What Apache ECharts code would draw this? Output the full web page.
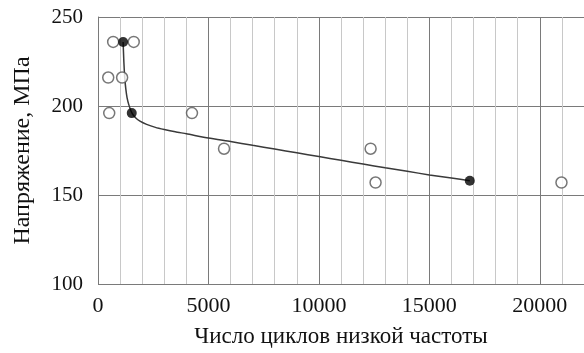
<!DOCTYPE html>
<html>
<head>
<meta charset="utf-8">
<script src="https://cdn.jsdelivr.net/npm/echarts@6/dist/echarts.min.js"></script>
<style>html,body{margin:0;padding:0;background:#fff;}#c{width:584px;height:353px;}</style>
</head>
<body>
<div id="c"></div>
<script>
// Experimental points (hollow circles)
const expX = [687, 1617, 463, 1092, 508, 4254, 5705, 12340, 12565, 20980];
const expY = [236, 236, 216, 216, 196, 196, 176, 176, 157, 157];
// Mean points (filled)
const meanX = [1137, 1527, 16830];
const meanY = [236, 196, 158];
// Fitted curve
const curveX = [1137, 1170, 1213, 1260, 1317, 1400, 1527, 1700, 1900, 2200, 2600, 3000, 3500, 4000, 5000, 6000, 7000, 8000, 9000, 10000, 11000, 12000, 13000, 14000, 15000, 16000, 16830];
const curveY = [236, 225, 215.5, 209.5, 204.6, 200.5, 196.3, 193.4, 191.5, 189.7, 188, 186.8, 185.5, 184.4, 182, 180, 177.9, 175.8, 173.7, 171.6, 169.5, 167.4, 165.3, 163.3, 161.3, 159.5, 158];
const xTicks = [0, 5000, 10000, 15000, 20000];
const yTicks = [100, 150, 200, 250];

const zip = (a, b) => a.map((v, i) => [v, b[i]]);
const font = 'Liberation Serif, Times New Roman, serif';
const chart = echarts.init(document.getElementById('c'));
chart.setOption({
  animation: false,
  grid: {left: 98, top: 17, width: 489, height: 272},
  xAxis: [{
    type: 'value', min: 0, max: 22000, interval: 5000, z: 2,
    name: 'Число циклов низкой частоты', nameLocation: 'middle', nameGap: 41,
    nameTextStyle: {fontFamily: font, fontSize: 23, color: '#111'},
    axisLine: {show: false}, axisTick: {show: false},
    axisLabel: {fontFamily: font, fontSize: 22, color: '#111', margin: 11, showMaxLabel: false,
      formatter: v => xTicks.indexOf(v) >= 0 ? String(v) : ''},
    splitLine: {show: true, lineStyle: {color: '#7a7a7a', width: 1}}
  }, {
    type: 'value', min: 0, max: 22000, interval: 1000, position: 'top', z: 1,
    axisLine: {show: false}, axisTick: {show: false}, axisLabel: {show: false},
    splitLine: {show: true, lineStyle: {color: '#c8c8c8', width: 1}}
  }],
  yAxis: {
    type: 'value', min: 100, max: 250, interval: 50,
    name: 'Напряжение, МПа', nameLocation: 'middle', nameGap: 63,
    nameTextStyle: {fontFamily: font, fontSize: 24, color: '#111'},
    axisLine: {show: true, lineStyle: {color: '#7a7a7a'}}, axisTick: {show: false},
    axisLabel: {fontFamily: font, fontSize: 21, color: '#111', margin: 15,
      formatter: v => yTicks.indexOf(v) >= 0 ? String(v) : ''},
    splitLine: {show: true, lineStyle: {color: '#7a7a7a', width: 1}}
  },
  series: [{
    type: 'line', data: zip(curveX, curveY), smooth: 0.2, showSymbol: false, symbol: 'none',
    lineStyle: {color: '#3a3a3a', width: 1.5}, z: 3
  }, {
    type: 'scatter', data: zip(expX, expY), symbol: 'circle', symbolSize: 11,
    itemStyle: {color: '#fff', borderColor: '#555', borderWidth: 1.5}, z: 4
  }, {
    type: 'scatter', data: zip(meanX, meanY), symbol: 'circle', symbolSize: 10,
    itemStyle: {color: '#000'}, z: 5
  }]
});
</script>
</body>
</html>
